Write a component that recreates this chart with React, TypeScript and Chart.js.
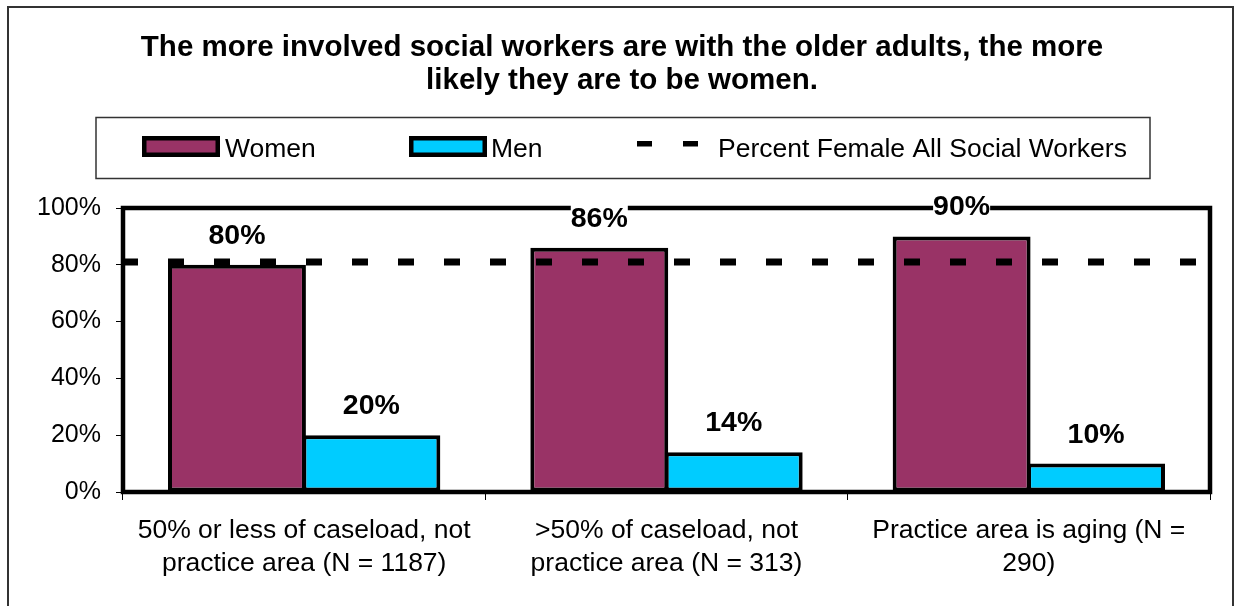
import React, { useEffect, useRef } from "react";
import { Chart, registerables } from "chart.js";

Chart.register(...registerables);

const categories: string[][] = [
  ["50% or less of caseload, not", "practice area (N = 1187)"],
  [">50% of caseload, not", "practice area (N = 313)"],
  ["Practice area is aging (N =", "290)"],
];
const womenValues = [80, 86, 90];
const menValues = [20, 14, 10];
const percentFemaleAllSocialWorkers = 81;
const yTickValues = [0, 20, 40, 60, 80, 100];
const titleLines = [
  "The more involved social workers are with the older adults, the more",
  "likely they are to be women.",
];
const legendLabels = ["Women", "Men", "Percent Female All Social Workers"];

const FONT = '"Liberation Sans", Arial, Helvetica, sans-serif';
const WOMEN_COLOR = "#993366";
const MEN_COLOR = "#00CCFF";

const decorPlugin = {
  id: "decor",
  beforeDraw(chart: any) {
    const ctx: CanvasRenderingContext2D = chart.ctx;
    ctx.save();
    ctx.fillStyle = "#fff";
    ctx.fillRect(0, 0, chart.width, chart.height);
    // outer border
    ctx.strokeStyle = "#333";
    ctx.lineWidth = 2;
    ctx.strokeRect(8, 7, 1225, 640);
    // title
    ctx.fillStyle = "#000";
    ctx.font = `bold 29.5px ${FONT}`;
    ctx.textAlign = "center";
    ctx.textBaseline = "alphabetic";
    ctx.fillText(titleLines[0], 622, 56);
    ctx.fillText(titleLines[1], 622, 89);
    // legend box
    ctx.strokeStyle = "#333";
    ctx.lineWidth = 1.5;
    ctx.strokeRect(96, 117.5, 1054, 61);
    // legend swatches
    const sw = (x: number, color: string) => {
      ctx.fillStyle = "#000";
      ctx.fillRect(x, 136, 78, 21);
      ctx.fillStyle = color;
      ctx.fillRect(x + 4.5, 140.5, 69, 12);
    };
    sw(142, WOMEN_COLOR);
    sw(409, MEN_COLOR);
    ctx.fillStyle = "#000";
    ctx.fillRect(637, 141, 15, 5.5);
    ctx.fillRect(683, 141, 15, 5.5);
    ctx.font = `26.5px ${FONT}`;
    ctx.textAlign = "left";
    ctx.fillStyle = "#000";
    ctx.fillText(legendLabels[0], 225, 157);
    ctx.fillText(legendLabels[1], 491, 157);
    ctx.fillText(legendLabels[2], 718, 157);
    ctx.restore();
  },
  beforeDatasetsDraw(chart: any) {
    const ctx: CanvasRenderingContext2D = chart.ctx;
    const a = chart.chartArea;
    ctx.save();
    ctx.strokeStyle = "#000";
    ctx.lineWidth = 4.5;
    ctx.strokeRect(a.left, a.top, a.right - a.left, a.bottom - a.top);
    ctx.restore();
  },
  afterDatasetsDraw(chart: any) {
    const ctx: CanvasRenderingContext2D = chart.ctx;
    const a = chart.chartArea;
    const yScale = chart.scales.y;
    ctx.save();
    // dashed reference line
    const yRef = yScale.getPixelForValue(percentFemaleAllSocialWorkers);
    ctx.strokeStyle = "#000";
    ctx.lineWidth = 7;
    ctx.lineCap = "butt";
    ctx.setLineDash([16, 30]);
    ctx.beginPath();
    ctx.moveTo(a.left - 1, yRef);
    ctx.lineTo(a.right, yRef);
    ctx.stroke();
    ctx.setLineDash([]);
    // data labels
    ctx.font = `bold 28.5px ${FONT}`;
    ctx.textAlign = "center";
    ctx.textBaseline = "alphabetic";
    chart.data.datasets.forEach((ds: any, i: number) => {
      const meta = chart.getDatasetMeta(i);
      meta.data.forEach((el: any, j: number) => {
        const v = ds.data[j];
        const txt = `${v}%`;
        const yTop = yScale.getPixelForValue(v);
        const base = yTop - 21;
        const w = ctx.measureText(txt).width;
        ctx.fillStyle = "#fff";
        ctx.fillRect(el.x - w / 2, base - 24, w, 26);
        ctx.fillStyle = "#000";
        ctx.fillText(txt, el.x, base);
      });
    });
    ctx.restore();
  },
};

export default function App() {
  const ref = useRef<HTMLCanvasElement | null>(null);
  useEffect(() => {
    if (!ref.current) return;
    const chart = new Chart(ref.current, {
      type: "bar",
      data: {
        labels: categories,
        datasets: [
          {
            label: legendLabels[0],
            data: womenValues,
            backgroundColor: WOMEN_COLOR,
            borderColor: "#000",
            borderWidth: 4,
            borderSkipped: false,
            categoryPercentage: 0.742,
            barPercentage: 1.026,
          },
          {
            label: legendLabels[1],
            data: menValues,
            backgroundColor: MEN_COLOR,
            borderColor: "#000",
            borderWidth: 4,
            borderSkipped: false,
            categoryPercentage: 0.742,
            barPercentage: 1.026,
          },
        ],
      },
      options: {
        animation: false,
        responsive: false,
        devicePixelRatio: 1,
        layout: { padding: { left: 0, right: 25, top: 208, bottom: 0 } },
        plugins: {
          legend: { display: false },
          title: { display: false },
          tooltip: { enabled: false },
        },
        scales: {
          x: {
            type: "category",
            offset: true,
            grid: {
              offset: true,
              drawOnChartArea: false,
              drawTicks: true,
              tickLength: 8,
              color: "#000",
              lineWidth: 1,
            },
            border: { display: false },
            ticks: {
              color: "#000",
              font: { family: FONT, size: 26.5, lineHeight: 33 / 26.5 },
              padding: 14,
              maxRotation: 0,
              minRotation: 0,
              autoSkip: false,
            },
            afterFit: (s: any) => {
              s.height = 114;
            },
          },
          y: {
            type: "linear",
            min: 0,
            max: 100,
            afterBuildTicks: (s: any) => {
              s.ticks = yTickValues.map((v) => ({ value: v }));
            },
            ticks: {
              color: "#000",
              font: { family: FONT, size: 25 },
              padding: 15,
              callback: (v: any) => `${v}%`,
            },
            grid: {
              drawOnChartArea: false,
              drawTicks: true,
              tickLength: 7,
              color: "#000",
              lineWidth: 1,
            },
            border: { display: false },
            afterFit: (s: any) => {
              s.width = 123;
            },
          },
        },
      },
      plugins: [decorPlugin],
    } as any);
    return () => chart.destroy();
  }, []);
  return (
    <div style={{ position: "fixed", left: 0, top: 0, width: 1235, height: 606, background: "#fff" }}>
      <canvas ref={ref} width={1235} height={606} style={{ display: "block", width: 1235, height: 606 }} />
    </div>
  );
}
